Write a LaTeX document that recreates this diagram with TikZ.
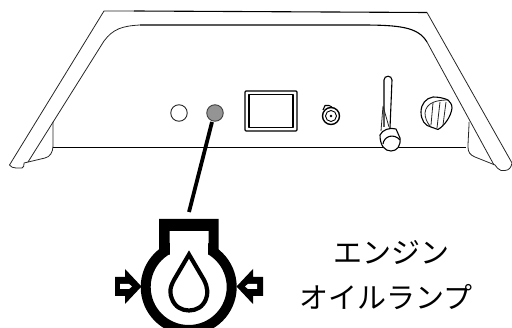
\documentclass[tikz,border=0pt]{standalone}
\usepackage{fontspec}
\newfontfamily\jpfont{Noto Sans CJK JP}
\tikzset{thin line/.style={draw=black!85,line width=0.8pt},
 mid line/.style={draw=black,line width=1.1pt},
 label text/.style={font=\jpfont\fontsize{29}{36}\selectfont,inner sep=0pt,align=center}}
\begin{document}
\begin{tikzpicture}[x=1pt,y=-1pt,line join=round]
\useasboundingbox (0,0) rectangle (512,328);
\begin{scope}
\clip (0,0) rectangle (512,328);
% housing outline
\draw[thin line] (134,11) -- (104,11) -- (9.5,165) .. controls (11,167) and (13,168) .. (16,168) -- (22,168) .. controls (24,168) and (24,165) .. (24,163) -- (45,158) .. controls (50,157) and (53,152) .. (53,146) -- (53,122);
\draw[mid line] (134,11) -- (427,12.5);
\draw[thin line] (427,12.5) -- (512,163) .. controls (511,168) and (509,170) .. (505,170.5) -- (501,170.5) .. controls (498,170) and (497,167) .. (495,165) -- (475,157) .. controls (470,155) and (468,152) .. (468,147) .. controls (468,140) and (469,130) .. (469,122);
\draw[thin line] (28,162) -- (104,41) .. controls (113,29) and (122,26) .. (140,25);
\draw[mid line] (140,25) -- (360,25) .. controls (400,25) and (418,27) .. (427,42);
\draw[thin line] (427,42) -- (494,165);
\draw[mid line] (53,147.5) -- (466,147.5);
% lamps
\node[draw=black!85,line width=0.9pt,circle,minimum size=16.5pt,inner sep=0pt] (led) at (179,113) {};
\node[draw=black!75,fill=black!42,line width=0.9pt,circle,minimum size=16.5pt,inner sep=0pt] (lamp) at (215,113) {};
% switch
\node[draw=black,line width=1.2pt,minimum width=52pt,minimum height=40pt,inner sep=0pt,rounded corners=1pt] (sw) at (271,111) {};
\node[draw=black,line width=1.1pt,minimum width=44pt,minimum height=33pt,inner sep=0pt] (swin) at (271,111) {};
% small knob
\node[draw=black,line width=1.4pt,circle,minimum size=17pt,inner sep=0pt] (sk) at (331,116) {};
\node[draw=black,line width=0.9pt,circle,minimum size=11pt,inner sep=0pt] (skin) at (331,116) {};
\fill[black] (331,116) circle (1.4);
\draw[mid line] (323,110) -- (325,105.5) -- (329,105.5) -- (332,107);
% lever
\draw[mid line] (384,127) -- (384,80) .. controls (384,75) and (392,75) .. (392,80) -- (390,128);
\draw[thin line] (383,106) -- (389,127) (383,106) -- (381,131);
\draw[mid line,fill=white] (380,135) .. controls (382,130) and (390,127) .. (396,129) -- (400,138) .. controls (401,146) and (397,151) .. (391,151) .. controls (385,151) and (380,146) .. (380,135) -- cycle;
\draw[mid line] (383,144) .. controls (384,136) and (394,133) .. (400,140);
% dial
\draw[mid line] (448,100) .. controls (444,98) and (438,97) .. (433,97) .. controls (426,98) and (421,104) .. (421,112) .. controls (421,120) and (425,126) .. (431,127) -- (438,129.5) .. controls (444,126) and (451,117) .. (452,108) .. controls (452,104) and (450,102) .. (448,100);
\draw[thin line] (448,100) .. controls (438,100) and (426,102) .. (425,113) .. controls (425,118) and (427,123) .. (431,127);
\draw[thin line] (433,103) -- (431,125) (440,102) -- (437,128) (446,102) -- (443,125);
% icon
\draw[line width=10pt] (188.7,287) circle (43);
\fill[white] (170,231) rectangle (208,262);
\fill[black] (159,219) -- (218.7,219) -- (218.7,250) -- (208.7,255) -- (208.7,231) -- (169.7,231) -- (169.7,255) -- (159,250) -- cycle;
\draw[line width=4.2pt,line join=miter] (189,254.5) -- (174,280) .. controls (169,289) and (170,294) .. (172,299) .. controls (175,307) and (182,310.5) .. (189,310.5) .. controls (196,310.5) and (203,307) .. (206,299) .. controls (208,294) and (208,288) .. (204,280) -- cycle;
% arrows
\fill[black] (141.5,286.5) -- (125,269) -- (125,277) -- (115,277) -- (115,296) -- (125,296) -- (125,304) -- cycle;
\fill[white] (120,284) -- (129,284) -- (132,286.5) -- (129,289) -- (120,289) -- cycle;
\fill[black] (236.5,286.5) -- (253,269) -- (253,277) -- (263,277) -- (263,296) -- (253,296) -- (253,304) -- cycle;
\fill[white] (257,284) -- (248,284) -- (245,286.5) -- (248,289) -- (257,289) -- cycle;
\end{scope}
% leader
\draw[line width=3.8pt] (lamp) ++(-3,9) -- (189,212);
% text
\node[label text] (t1) at (391,252) {エンジン};
\node[label text] (t2) at (386,297) {オイルランプ};
\end{tikzpicture}
\end{document}
